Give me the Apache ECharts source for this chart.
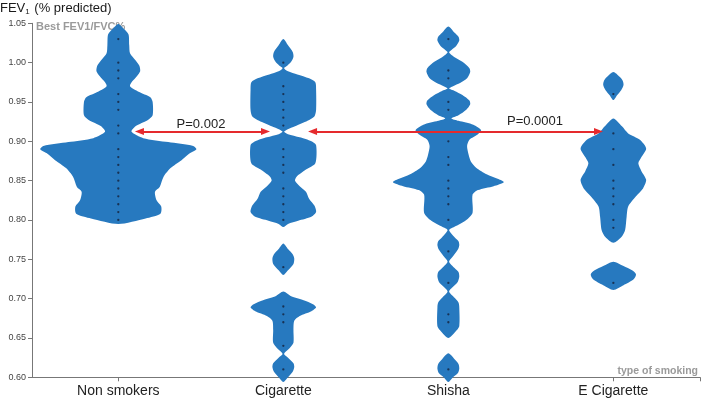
<!DOCTYPE html>
<html>
<head>
<meta charset="utf-8">
<script src="https://cdn.jsdelivr.net/npm/echarts@6/dist/echarts.min.js"></script>
<style>
html,body{margin:0;padding:0;background:#fff;}
#c{width:705px;height:404px;}
</style>
</head>
<body>
<div id="c"></div>
<script>
// ---------- data ----------
const categories = ['Non smokers', 'Cigarette', 'Shisha', 'E Cigarette'];
const yTicks = [0.60, 0.65, 0.70, 0.75, 0.80, 0.85, 0.90, 0.95, 1.00, 1.05];

// individual observations (dots)
const nonSmokersDots = [1.03,1.00,0.99,0.98,0.96,0.95,0.94,0.92,0.91,0.89,0.88,0.87,0.86,0.85,0.84,0.83,0.82,0.81,0.80];
const cigaretteDots = [1.00,0.97,0.96,0.95,0.94,0.93,0.92,0.89,0.88,0.87,0.86,0.84,0.83,0.82,0.81,0.80,0.74,0.69,0.68,0.67,0.64,0.61];
const shishaDots = [1.03,0.99,0.98,0.95,0.94,0.90,0.88,0.87,0.85,0.84,0.83,0.82,0.80,0.76,0.72,0.68,0.67,0.61];
const eCigaretteDots = [0.96,0.91,0.89,0.87,0.85,0.84,0.83,0.82,0.80,0.79,0.72];

// violin density profiles (FEV value, relative density 0-100)
const nonSmokersFev = [1.049,1.044,1.036,1.022,1.012,1.003,0.996,0.989,0.983,0.975,0.970,0.963,0.956,0.950,0.933,0.927,0.919,0.912,0.904,0.899,0.894,0.890,0.885,0.876,0.866,0.855,0.842,0.836,0.825,0.817,0.808,0.802,0.795];
const nonSmokersDensity = [0,6,13,14,15,22,27,28,24,17,15,26,41,44,44,38,22,17,32,64,96,100,92,81,67,58,53,47,49,55,54,35,0];

const cigaretteFev = [1.030,1.022,1.0135,1.0075,1.001,0.996,0.993,0.989,0.985,0.980,0.975,0.965,0.940,0.932,0.926,0.919,0.915,0.912,0.909,0.905,0.900,0.895,0.872,0.864,0.855,0.850,0.843,0.836,0.827,0.818,0.810,0.804,0.799,0.795,0.791,
  0.770,0.763,0.7565,0.751,0.744,0.736,0.730,
  0.709,0.703,0.698,0.693,0.689,0.684,0.678,0.672,0.660,0.644,0.637,0.630,0.625,0.618,0.613,0.607,0.600,0.594];
const cigaretteDensity = [0,6,12,13,10,5,1,6,18,33,41,42,42,40,31,15,5,1,6,21,36,42,41,29,17,15,21,29,33,40,42,36,19,6,0,
  0,6,12,14,13,6,0,
  0,10,26,38,42,36,21,14,13,13,8,1,6,13,14,12,6,0];

const shishaFev = [1.046,1.038,1.033,1.028,1.021,1.016,1.013,1.007,1.001,0.993,0.988,0.980,0.974,0.970,0.967,0.964,0.959,0.952,0.947,0.940,0.933,0.929,0.926,0.921,0.914,0.909,0.902,0.894,0.883,0.874,0.866,0.858,0.852,0.848,0.843,0.838,0.832,0.809,0.800,0.794,0.790,0.787,0.778,0.773,0.768,0.762,0.754,0.747,0.739,0.734,0.728,0.721,0.715,0.709,0.701,0.695,0.689,0.665,0.658,0.650,
  0.6305,0.623,0.617,0.611,0.605,0.600,0.594];
const shishaDensity = [0,8,13,14,10,4,1,8,18,27,28,24,15,6,1,8,18,27,28,23,13,4,13,32,42,38,27,24,26,29,36,49,64,71,58,38,31,31,23,13,5,1,8,13,14,12,6,1,8,13,14,12,6,1,8,13,14,14,9,0,
  0,8,13,14,12,6,0];

const eCigaretteFev = [0.988,0.982,0.977,0.9716,0.965,0.959,0.9525,
  0.929,0.919,0.910,0.902,0.891,0.880,0.872,0.862,0.851,0.840,0.830,0.817,0.804,0.787,0.778,0.771,
  0.747,0.7415,0.736,0.731,0.7245,0.717,0.711];
const eCigaretteDensity = [0,8,12,13,10,5,0,
  0,11,19,34,42,36,32,36,42,38,29,19,17,15,10,0,
  0,13,24,29,26,13,0];

// p-value annotations
const pLabels = ['P=0.002', 'P=0.0001'];
const pArrowY = 0.9124;

// ---------- chart ----------
const dotsByGroup = [nonSmokersDots, cigaretteDots, shishaDots, eCigaretteDots];
const fevByGroup = [nonSmokersFev, cigaretteFev, shishaFev, eCigaretteFev];
const densByGroup = [nonSmokersDensity, cigaretteDensity, shishaDensity, eCigaretteDensity];

function splitLobes(vs, ds) {
  const segs = []; let cur = [];
  for (let i = 0; i < vs.length; i++) {
    cur.push([vs[i], ds[i]]);
    if (ds[i] === 0 && cur.length > 1) { segs.push(cur); cur = []; }
  }
  if (cur.length > 1) segs.push(cur);
  return segs;
}

const violinColor = '#2779bf';
const font = "'Liberation Sans', Arial, sans-serif";

const chart = echarts.init(document.getElementById('c'), null, {renderer: 'canvas'});

const scatterData = [];
dotsByGroup.forEach((arr, gi) => arr.forEach(v => scatterData.push([gi, v])));

const xMin = -0.523, xMax = 3.525;

chart.setOption({
  animation: false,
  title: {
    text: '{a|FEV}{b|1}{a| (% predicted)}',
    left: 0, top: 0, padding: 0,
    textStyle: {
      fontWeight: 'normal',
      rich: {
        a: {fontSize: 13, fontFamily: font, color: '#1a1a1a', lineHeight: 16, fontWeight: 'normal'},
        b: {fontSize: 8, fontFamily: font, color: '#1a1a1a', lineHeight: 16, fontWeight: 'normal', verticalAlign: 'bottom', padding: [6, 1, 0, 0]}
      }
    }
  },
  grid: {left: 32, right: 5, top: 23.3, bottom: 26.7, containLabel: false},
  xAxis: {
    type: 'value', min: xMin, max: xMax,
    name: 'type of smoking', nameLocation: 'end', nameGap: -2,
    nameTextStyle: {align: 'right', verticalAlign: 'bottom', padding: [0, 0, 1, 0], color: '#9a9a9a', fontWeight: 'bold', fontSize: 10.5, fontFamily: font},
    splitLine: {show: false},
    axisLine: {onZero: false, lineStyle: {color: '#777', width: 1}},
    axisTick: {show: true, length: 4, lineStyle: {color: '#777'}, customValues: [0, 1, 2, 3, xMax]},
    axisLabel: {customValues: [0, 1, 2, 3], formatter: v => categories[Math.round(v)], fontSize: 14, color: '#222', fontFamily: font, margin: 7}
  },
  yAxis: {
    type: 'value', min: 0.60, max: 1.05, interval: 0.05,
    name: 'Best FEV1/FVC%', nameLocation: 'end', nameGap: -3.4,
    nameTextStyle: {align: 'left', verticalAlign: 'middle', padding: [0, 0, 0, 4], color: '#9a9a9a', fontWeight: 'bold', fontSize: 11, fontFamily: font},
    splitLine: {show: false},
    axisLine: {show: true, onZero: false, lineStyle: {color: '#777', width: 1}},
    axisTick: {show: true, length: 4, lineStyle: {color: '#777'}},
    axisLabel: {formatter: v => v.toFixed(2), fontSize: 9, color: '#444', fontFamily: font, margin: 6,
      customValues: yTicks}
  },
  series: [
    {
      type: 'custom',
      clip: false,
      z: 2,
      data: categories.map((c, i) => [i, 0.8]),
      renderItem: function (params, api) {
        const gi = api.value(0);
        const bandPx = api.size([1, 0])[0];
        const scale = bandPx * 0.473 / 100;
        const segs = splitLobes(fevByGroup[gi], densByGroup[gi]);
        const children = segs.map(seg => {
          const right = seg.map(([v, d]) => { const p = api.coord([gi, v]); return [p[0] + d * scale, p[1]]; });
          const left = seg.slice(1, -1).reverse().map(([v, d]) => { const p = api.coord([gi, v]); return [p[0] - d * scale, p[1]]; });
          return {type: 'polygon', shape: {points: right.concat(left), smooth: 0.25}, style: {fill: violinColor}};
        });
        return {type: 'group', children};
      }
    },
    {
      type: 'scatter',
      z: 3,
      symbolSize: 2.3,
      itemStyle: {color: '#15203a'},
      data: scatterData,
      markLine: {
        silent: true,
        symbol: ['triangle', 'triangle'],
        symbolSize: [7, 9],
        lineStyle: {color: '#e52a2d', width: 2, type: 'solid'},
        label: {show: false},
        z: 10,
        data: [
          [{coord: [0.128, pArrowY]}, {coord: [0.892, pArrowY]}],
          [{coord: [1.177, pArrowY]}, {coord: [2.910, pArrowY]}]
        ]
      },
      markPoint: {
        silent: true,
        symbol: 'circle', symbolSize: 0,
        label: {show: true, color: '#222', fontSize: 13, fontFamily: font, formatter: p => p.name, position: 'inside'},
        data: [
          {name: pLabels[0], coord: [0.501, 0.9213]},
          {name: pLabels[1], coord: [2.525, 0.9258]}
        ]
      }
    }
  ]
});
</script>
</body>
</html>
